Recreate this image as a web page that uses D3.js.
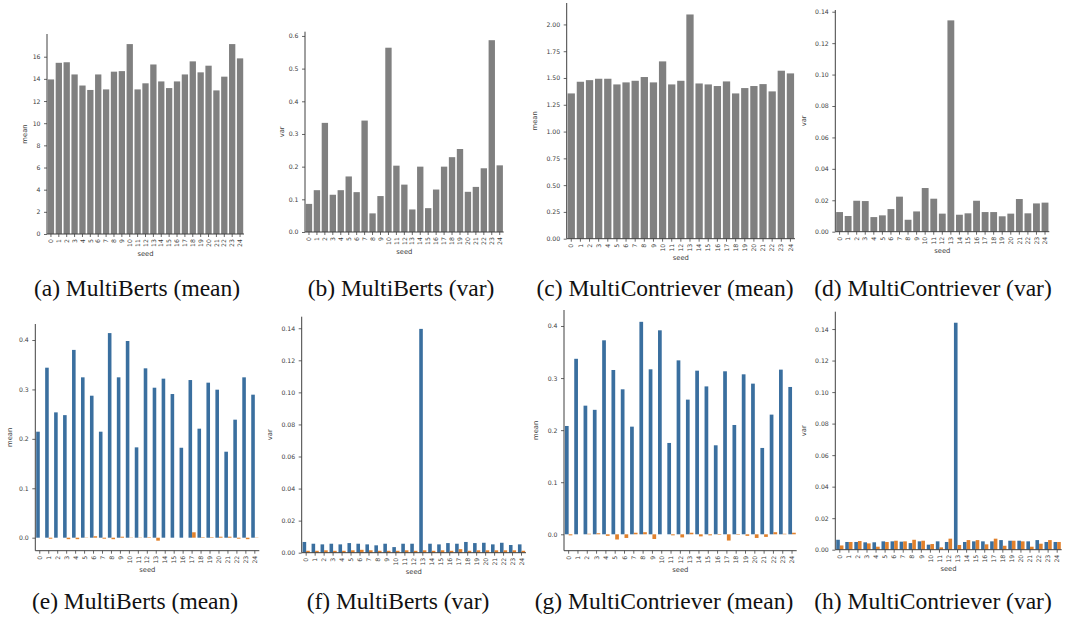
<!DOCTYPE html>
<html>
<head>
<meta charset="utf-8">
<script src="https://cdn.jsdelivr.net/npm/d3@7"></script>
<style>
  body { margin: 0; background: #fff; }
  svg text { font-family: "DejaVu Sans", sans-serif; }
  .caption { font-family: "Liberation Serif", "Times New Roman", serif !important; }
</style>
</head>
<body>
<div id="chart"></div>
<script>
// seed categories shared by every panel
const seeds = ["0","1","2","3","4","5","6","7","8","9","10","11","12","13","14","15","16","17","18","19","20","21","22","23","24"];

// top row: single gray bars
const bertsMean = [13.95,15.45,15.5,14.4,13.4,13.0,14.4,13.05,14.65,14.7,17.14,13.05,13.6,15.3,13.77,13.17,13.77,14.4,15.58,14.59,15.19,12.96,14.2,17.14,15.85];
const bertsVar = [0.086,0.128,0.334,0.114,0.128,0.170,0.122,0.341,0.057,0.110,0.564,0.203,0.145,0.069,0.200,0.073,0.130,0.200,0.229,0.254,0.123,0.138,0.195,0.587,0.204];
const contrMean = [1.356,1.465,1.48,1.493,1.493,1.44,1.459,1.474,1.509,1.459,1.655,1.44,1.474,2.093,1.449,1.44,1.425,1.468,1.356,1.406,1.425,1.443,1.375,1.568,1.543];
const contrVar = [0.0125,0.0100,0.0197,0.0195,0.0093,0.0104,0.0144,0.0223,0.0076,0.0129,0.0278,0.0210,0.0115,0.1345,0.0108,0.0117,0.0197,0.0125,0.0125,0.0098,0.0115,0.0208,0.0117,0.0180,0.0185];

// bottom row: two hue series per seed
const bertsMeanA = [0.2145,0.344,0.2536,0.248,0.380,0.3245,0.2873,0.2145,0.414,0.3245,0.398,0.1828,0.3427,0.3035,0.3218,0.2907,0.182,0.319,0.2206,0.3137,0.2995,0.174,0.2388,0.3245,0.2894];
const bertsMeanB = [0.0,-0.002,0.0,-0.003,-0.003,0.0005,0.003,-0.002,-0.003,0.002,0.0005,0.0005,0.001,-0.006,0.0,0.0,0.0,0.011,0.001,0.001,0.002,0.002,-0.002,-0.003,0.0005];
const bertsVarA = [0.0067,0.0056,0.0052,0.0056,0.0052,0.006,0.0056,0.0052,0.0046,0.0056,0.0035,0.0056,0.0056,0.1396,0.0056,0.0052,0.006,0.0056,0.0067,0.006,0.0062,0.0052,0.0062,0.0048,0.0052];
const bertsVarB = [0.0012,0.0012,0.0015,0.0012,0.0012,0.0015,0.0018,0.0015,0.0012,0.0012,0.0012,0.0015,0.0012,0.0015,0.0012,0.0015,0.0012,0.0022,0.0012,0.0015,0.0015,0.0015,0.0015,0.0015,0.0012];
const contrMeanA = [0.208,0.337,0.247,0.239,0.3725,0.3155,0.2784,0.2067,0.408,0.3168,0.3917,0.1754,0.334,0.2586,0.3142,0.284,0.1709,0.313,0.2099,0.3072,0.2893,0.1658,0.2298,0.3162,0.2829];
const contrMeanB = [-0.002,0.0,0.001,0.002,-0.003,-0.010,-0.007,0.003,0.004,-0.009,0.0,-0.002,-0.006,0.003,-0.004,-0.002,-0.001,-0.012,-0.001,-0.003,-0.007,-0.005,0.004,0.001,0.003];
const contrVarA = [0.0063,0.0049,0.0049,0.0047,0.0047,0.0053,0.0053,0.0051,0.0042,0.0053,0.0032,0.0053,0.0049,0.144,0.0049,0.0053,0.0053,0.0053,0.0061,0.0057,0.0057,0.0053,0.0061,0.0049,0.0049];
const contrVarB = [0.0027,0.0049,0.0055,0.004,0.0019,0.0049,0.0057,0.0053,0.0063,0.0057,0.0036,0.0015,0.007,0.003,0.0061,0.0061,0.0034,0.007,0.0025,0.0057,0.0053,0.0019,0.0038,0.0061,0.0049];

// captions and y-axis labels
const captions = ["(a) MultiBerts (mean)","(b) MultiBerts (var)","(c) MultiContriever (mean)","(d) MultiContriever (var)",
                  "(e) MultiBerts (mean)","(f) MultiBerts (var)","(g) MultiContriever (mean)","(h) MultiContriever (var)"];
const yLabels = ["mean","var","mean","var","mean","var","mean","var"];

// y tick values per panel
const yTicks = [
    [0,2,4,6,8,10,12,14,16],
    [0,0.1,0.2,0.3,0.4,0.5,0.6],
    [0,0.25,0.5,0.75,1,1.25,1.5,1.75,2],
    [0,0.02,0.04,0.06,0.08,0.1,0.12,0.14],
    [0,0.1,0.2,0.3,0.4],
    [0,0.02,0.04,0.06,0.08,0.1,0.12,0.14],
    [0,0.1,0.2,0.3,0.4],
    [0,0.02,0.04,0.06,0.08,0.1,0.12,0.14]
];
const yFormats = [".0f",".1f",".2f",".2f",".1f",".2f",".1f",".2f"];
const yDomains = [[0,18.05],[0,0.613],[0,2.2],[0,0.1411],[-0.0263,0.4324],[0,0.1472],[-0.0315,0.4307],[0,0.151]];

const series = [
    [bertsMean],[bertsVar],[contrMean],[contrVar],
    [bertsMeanA,bertsMeanB],[bertsVarA,bertsVarB],[contrMeanA,contrMeanB],[contrVarA,contrVarB]
];

// panel geometry: plot box, y-label x, caption centre
const layout = [
    {x0:47,  x1:244,  top:34,    bottom:234,   ylab:27,  cx:137, cy:296},
    {x0:305, x1:503.7,top:31.7,  bottom:232,   ylab:284, cx:401, cy:296},
    {x0:566.7,x1:795, top:3,     bottom:238.7, ylab:537, cx:665, cy:296},
    {x0:835.3,x1:1049.3,top:10,  bottom:231.7, ylab:806, cx:933, cy:296},
    {x0:35.3,x1:259.3,top:324,   bottom:550.7, ylab:12,  cx:135, cy:609},
    {x0:301.7,x1:526, top:316.7, bottom:552.7, ylab:272, cx:398, cy:609},
    {x0:564, x1:796.7,top:310,   bottom:550.7, ylab:538, cx:664, cy:609},
    {x0:835.3,x1:1061.7,top:311.7,bottom:549.7,ylab:806, cx:933, cy:609}
];

const gray = "#808080", blue = "#3a6f9f", orange = "#e1812c", ink = "#404040";

const svg = d3.select("#chart")
  .append("svg")
    .attr("width", 1066)
    .attr("height", 624);

layout.forEach((L, i) => {
    const g = svg.append("g");

    const x = d3.scaleBand()
        .domain(seeds)
        .range([L.x0, L.x1])
        .paddingInner(0.2)
        .paddingOuter(0.1);
    const y = d3.scaleLinear()
        .domain(yDomains[i])
        .range([L.bottom, L.top]);

    const data = series[i];
    const colors = data.length === 1 ? [gray] : [blue, orange];
    const sub = d3.scaleBand()
        .domain(d3.range(data.length))
        .range([0, x.bandwidth()]);

    data.forEach((vals, k) => {
        g.append("g")
          .selectAll("rect")
          .data(vals)
          .join("rect")
            .attr("x", (d, j) => x(seeds[j]) + sub(k))
            .attr("width", sub.bandwidth())
            .attr("y", d => y(Math.max(0, d)))
            .attr("height", d => Math.abs(y(d) - y(0)))
            .attr("fill", colors[k]);
    });

    // left axis
    const yAxis = g.append("g")
        .attr("transform", `translate(${L.x0},0)`)
        .call(d3.axisLeft(y).tickValues(yTicks[i]).tickFormat(d3.format(yFormats[i])).tickSize(3).tickPadding(3.5));

    // bottom axis
    const xAxis = g.append("g")
        .attr("transform", `translate(0,${L.bottom})`)
        .call(d3.axisBottom(x).tickSize(3).tickPadding(2));
    xAxis.selectAll("text")
        .attr("transform", "rotate(-90)")
        .attr("text-anchor", "end")
        .attr("x", -5)
        .attr("y", 0)
        .attr("dy", "0.35em");

    [yAxis, xAxis].forEach(a => {
        a.selectAll(".domain").attr("stroke", ink).attr("stroke-width", 1);
        a.selectAll(".tick line").attr("stroke", ink).attr("stroke-width", 0.8);
        a.selectAll("text").attr("fill", ink).style("font-size", "6.2px");
    });
    // seaborn despine: no outer tick caps on the spine
    yAxis.select(".domain").attr("d", `M0,${L.top}V${L.bottom}`);
    xAxis.select(".domain").attr("d", `M${L.x0},0H${L.x1}`);

    g.append("text")
        .attr("x", (L.x0 + L.x1) / 2)
        .attr("y", L.bottom + 21.5)
        .attr("text-anchor", "middle")
        .attr("fill", ink)
        .style("font-size", "6.8px")
        .text("seed");

    g.append("text")
        .attr("transform", `translate(${L.ylab},${(L.top + L.bottom) / 2}) rotate(-90)`)
        .attr("text-anchor", "middle")
        .attr("fill", ink)
        .style("font-size", "6.8px")
        .text(yLabels[i]);

    svg.append("text")
        .attr("class", "caption")
        .attr("x", L.cx)
        .attr("y", L.cy)
        .attr("text-anchor", "middle")
        .attr("fill", "#111")
        .style("font-size", "23.5px")
        .text(captions[i]);
});
</script>
</body>
</html>
